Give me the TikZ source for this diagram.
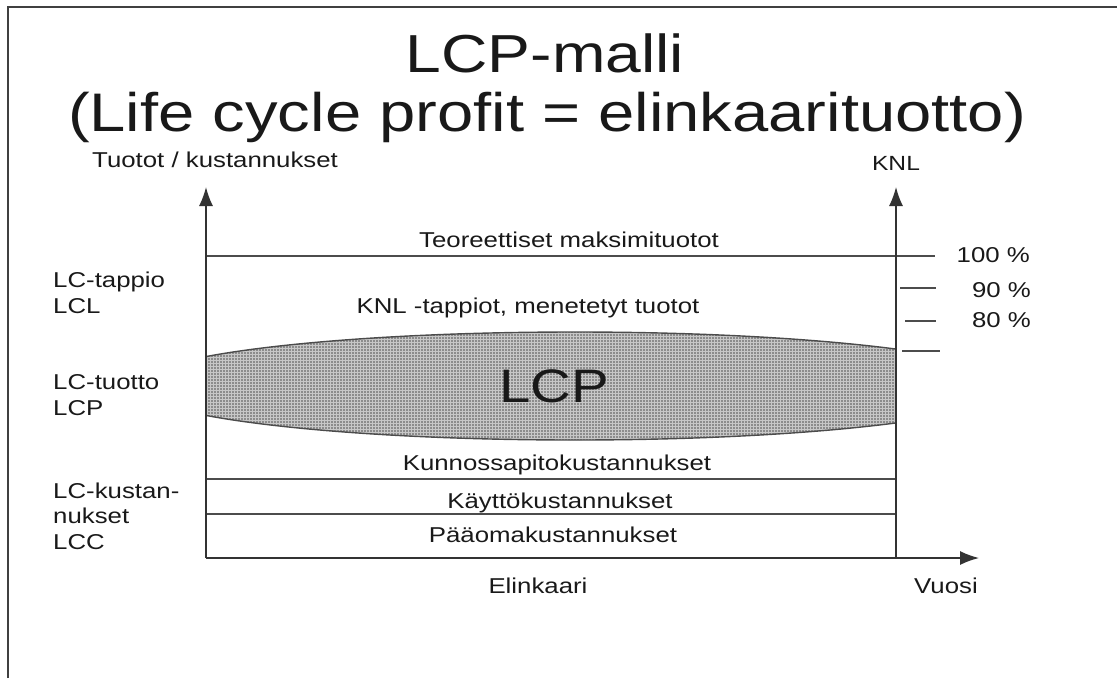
\documentclass[tikz,border=0pt]{standalone}
\usepackage{fontspec}
\setmainfont{Liberation Sans}[FakeStretch=1.2]
\usetikzlibrary{arrows.meta,patterns}
\begin{document}
\begin{tikzpicture}[x=1pt,y=-1pt,
  txt/.style={inner sep=0pt,font=\fontsize{21.5}{25}\selectfont,text=black!90},
  ctxt/.style={txt,anchor=base},
  ltxt/.style={txt,anchor=base west},
  rtxt/.style={txt,anchor=base east},
  axis/.style={line width=1.4pt,draw=black!80,-{Latex[length=19pt,width=14pt]}},
  hline/.style={line width=1.3pt,draw=black!70},
  tick/.style={line width=1.1pt,draw=black!70},
  frame/.style={line width=2pt,draw=black!75}]
\path[use as bounding box] (0,0) rectangle (1117,678);
% frame
\coordinate (fa) at (8,678);
\coordinate (fb) at (8,7);
\coordinate (fc) at (1117,7);
\draw[frame] (fa) -- (fb) -- (fc);
% title
\node[ctxt,font=\fontsize{53.5}{60}\selectfont] (title1) at (545,72) {LCP-malli};
\node[ctxt,font=\fontsize{54.3}{60}\selectfont] (title2) at (547,131) {(Life cycle profit = elinkaarituotto)};
% axis labels
\node[ltxt] (ylab) at (92,167) {Tuotot / kustannukset};
\node[ctxt,font=\fontsize{20.5}{24}\selectfont] (knl) at (896,170) {KNL};
% coordinates
\coordinate (o) at (206,558);
\coordinate (ytip) at (206,187);
\coordinate (r0) at (896,558);
\coordinate (rtip) at (896,187);
\coordinate (xtip) at (979,558);
\coordinate (t0) at (206,256);
\coordinate (t1) at (935,256);
\coordinate (k0) at (206,479);
\coordinate (k1) at (896,479);
\coordinate (p0) at (206,514);
\coordinate (p1) at (896,514);
% ellipse (clipped by the axes)
\begin{scope}
\clip (206,0) rectangle (896,678);
\fill[black!45] (575,386) ellipse [x radius=440, y radius=54];
\fill[pattern=grid,pattern color=black!22] (575,386) ellipse [x radius=440, y radius=54];
\draw[line width=1.4pt,draw=black!70] (575,386) ellipse [x radius=440, y radius=54];
\end{scope}
\node[ctxt,font=\fontsize{47}{52}\selectfont] (lcp) at (554,402) {LCP};
% horizontal lines
\draw[hline] (t0) -- (t1);
\draw[hline] (k0) -- (k1);
\draw[hline] (p0) -- (p1);
% axes
\draw[axis] (o) -- (ytip);
\draw[axis] (r0) -- (rtip);
\draw[axis] (o) -- (xtip);
% ticks
\coordinate (a0) at (900,288); \coordinate (a1) at (936,288);
\coordinate (b0) at (905,321); \coordinate (b1) at (936,321);
\coordinate (c0) at (902,351); \coordinate (c1) at (940,351);
\draw[tick] (a0) -- (a1);
\draw[tick] (b0) -- (b1);
\draw[tick] (c0) -- (c1);
\node[rtxt] (p100) at (1030,262) {100 \%};
\node[rtxt] (p90) at (1031,297) {90 \%};
\node[rtxt] (p80) at (1031,327) {80 \%};
% texts in diagram
\node[ctxt] (teo) at (569,247) {Teoreettiset maksimituotot};
\node[ctxt] (knlt) at (528,313) {KNL -tappiot, menetetyt tuotot};
\node[ctxt] (kun) at (557,470) {Kunnossapitokustannukset};
\node[ctxt] (kay) at (560,508) {Käyttökustannukset};
\node[ctxt] (paa) at (553,542) {Pääomakustannukset};
\node[ctxt] (eli) at (538,593) {Elinkaari};
\node[ctxt] (vuo) at (946,593) {Vuosi};
% left labels
\node[ltxt] (l1) at (53,287) {LC-tappio};
\node[ltxt] (l2) at (53,313) {LCL};
\node[ltxt] (l3) at (53,389) {LC-tuotto};
\node[ltxt] (l4) at (53,415) {LCP};
\node[ltxt] (l5) at (53,498) {LC-kustan-};
\node[ltxt] (l6) at (53,523) {nukset};
\node[ltxt] (l7) at (53,549) {LCC};
\end{tikzpicture}
\end{document}
